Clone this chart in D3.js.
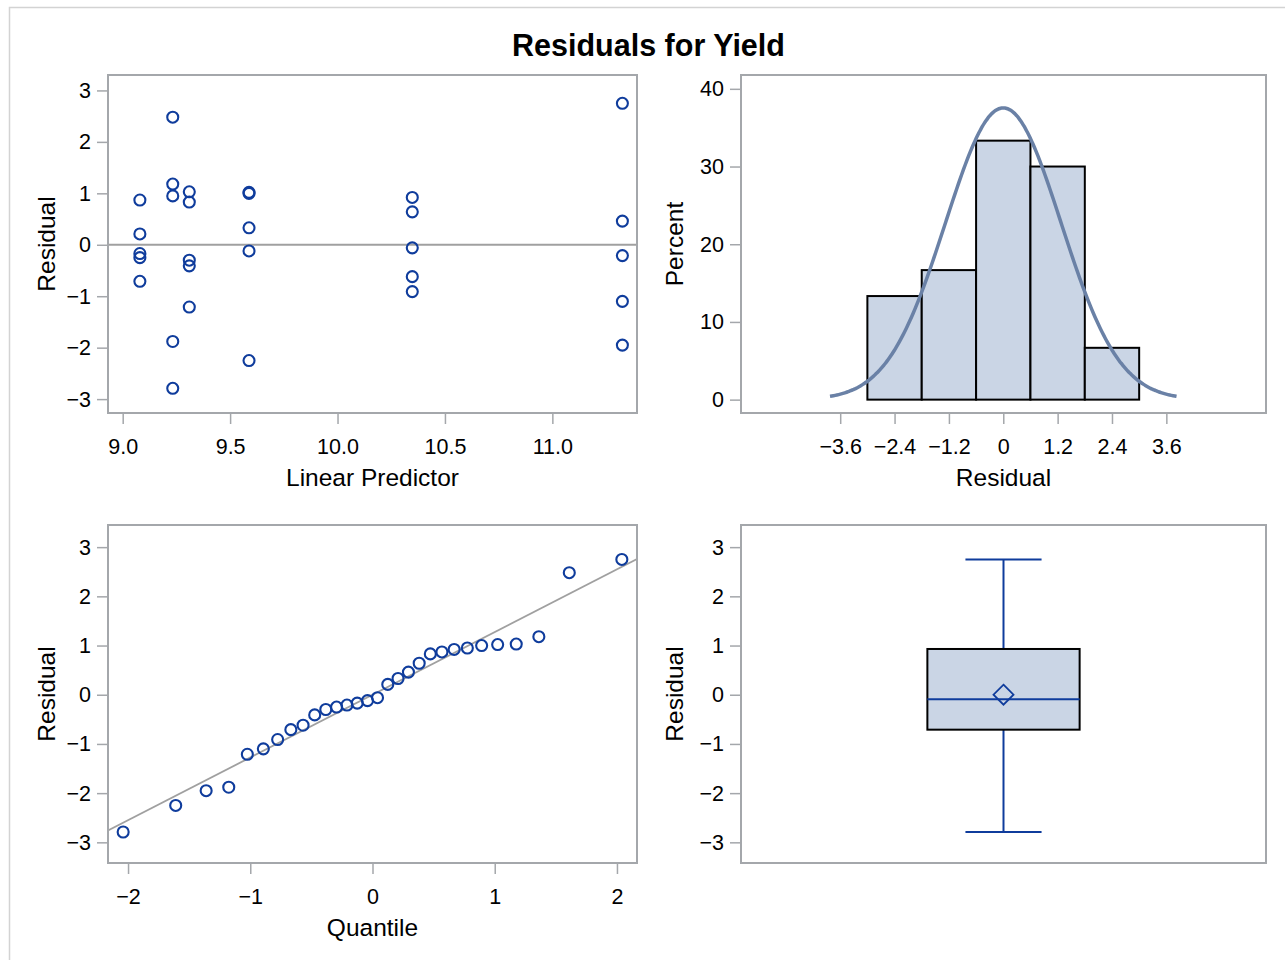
<!DOCTYPE html>
<html><head><meta charset="utf-8">
<script src="https://cdn.jsdelivr.net/npm/d3@7"></script>
<style>
body{margin:0;background:#fff}
svg{display:block}
text{font-family:"Liberation Sans",Arial,sans-serif;fill:#000}
</style>
</head><body>
<svg id="c" width="1285" height="960"></svg>
<script>
// ---------------- data ----------------
const chartTitle = "Residuals for Yield";
// Residual vs linear predictor (30 observations)
const linPred = [
  9.08, 9.08, 9.08, 9.08, 9.08,
  9.233, 9.233, 9.233, 9.233, 9.233,
  9.31, 9.31, 9.31, 9.31, 9.31,
  9.588, 9.588, 9.588, 9.588, 9.588,
  10.348, 10.348, 10.348, 10.348, 10.348,
  11.326, 11.326, 11.326, 11.326, 11.326
];
const residual = [
  0.87, 0.21, -0.17, -0.25, -0.71,
  2.48, 1.18, 0.95, -1.88, -2.79,
  1.03, 0.83, -0.30, -0.41, -1.21,
  1.02, 1.00, 0.33, -0.12, -2.25,
  0.92, 0.64, -0.06, -0.62, -0.91,
  2.75, 0.46, -0.21, -1.10, -1.95
];
// Q-Q plot: normal quantiles and ordered residuals
const qqQuantile = [
  -2.040, -1.610, -1.361, -1.176, -1.024, -0.893, -0.776, -0.668, -0.568, -0.473,
  -0.382, -0.294, -0.209, -0.125, -0.041, 0.041, 0.125, 0.209, 0.294, 0.382,
  0.473, 0.568, 0.668, 0.776, 0.893, 1.024, 1.176, 1.361, 1.610, 2.040
];
const qqResidual = [
  -2.79, -2.25, -1.95, -1.88, -1.21, -1.10, -0.91, -0.71, -0.62, -0.41,
  -0.30, -0.25, -0.21, -0.17, -0.12, -0.06, 0.21, 0.33, 0.46, 0.64,
  0.83, 0.87, 0.92, 0.95, 1.00, 1.02, 1.03, 1.18, 2.48, 2.75
];
// Histogram
const binLow  = [-3.0, -1.8, -0.6, 0.6, 1.8];
const binHigh = [-1.8, -0.6, 0.6, 1.8, 3.0];
const binPercent = [13.33, 16.67, 33.33, 30.0, 6.67];
const normalMu = 0.0;
const normalSigma = 1.275;
// Box plot statistics: min, Q1, median, Q3, max, mean
const boxStats = {min: -2.79, q1: -0.71, median: -0.09, q3: 0.93, max: 2.75, mean: 0.0};
// Tick values and labels
const residTicks = [-3, -2, -1, 0, 1, 2, 3];
const residTickLabels = ["−3", "−2", "−1", "0", "1", "2", "3"];
const predTicks = [9.0, 9.5, 10.0, 10.5, 11.0];
const predTickLabels = ["9.0", "9.5", "10.0", "10.5", "11.0"];
const pctTicks = [0, 10, 20, 30, 40];
const pctTickLabels = ["0", "10", "20", "30", "40"];
const histTicks = [-3.6, -2.4, -1.2, 0, 1.2, 2.4, 3.6];
const histTickLabels = ["−3.6", "−2.4", "−1.2", "0", "1.2", "2.4", "3.6"];
const quantTicks = [-2, -1, 0, 1, 2];
const quantTickLabels = ["−2", "−1", "0", "1", "2"];

// ---------------- style ----------------
const C = {
  frame: "#a4a7ab", tick: "#a4a7ab", marker: "#0f3c9c",
  ref: "#a0a0a0", bar: "#cad5e5", curve: "#6a81a6", outer: "#d3d3d3"
};
const FT = 21.5, FL = 24.5;

const svg = d3.select("#c");

// outer border
svg.append("path").attr("d", "M9.5,960 V7.5 H1285").attr("fill", "none")
  .attr("stroke", C.outer).attr("stroke-width", 1.5);

svg.append("text").attr("x", 648.5).attr("y", 56).attr("text-anchor", "middle")
  .attr("font-size", 30.5).attr("font-weight", "bold").text(chartTitle);

const P = {
  tl: {x0: 108, x1: 637, y0: 75, y1: 413, lab: 53},
  tr: {x0: 741, x1: 1266, y0: 75, y1: 413, lab: 58},
  bl: {x0: 108, x1: 637, y0: 525, y1: 863, lab: 53},
  br: {x0: 741, x1: 1266, y0: 525, y1: 863, lab: 58}
};

function fmtFrom(ticks, labels) {
  return d => labels[ticks.indexOf(d)];
}
function styleAxis(g) {
  g.select(".domain").remove();
  g.selectAll(".tick line").attr("stroke", C.tick).attr("stroke-width", 1.5);
  g.selectAll(".tick text").attr("font-size", FT).attr("fill", "#000")
    .attr("font-family", '"Liberation Sans",Arial,sans-serif');
}
function frame(p) {
  svg.append("rect").attr("x", p.x0).attr("y", p.y0)
    .attr("width", p.x1 - p.x0).attr("height", p.y1 - p.y0)
    .attr("fill", "none").attr("stroke", C.frame).attr("stroke-width", 2);
}
function yAxis(p, y, ticks, labels, label) {
  const g = svg.append("g").attr("transform", `translate(${p.x0},0)`)
    .call(d3.axisLeft(y).tickValues(ticks).tickSize(11).tickPadding(6).tickFormat(fmtFrom(ticks, labels)));
  styleAxis(g);
  svg.append("text").attr("transform", `translate(${p.x0 - p.lab},${(p.y0 + p.y1) / 2}) rotate(-90)`)
    .attr("text-anchor", "middle").attr("font-size", FL).text(label);
}
function xAxis(p, x, ticks, labels, label) {
  const g = svg.append("g").attr("transform", `translate(0,${p.y1})`)
    .call(d3.axisBottom(x).tickValues(ticks).tickSize(11).tickPadding(15).tickFormat(fmtFrom(ticks, labels)));
  styleAxis(g);
  g.selectAll(".tick text").attr("dy", "0.71em");
  svg.append("text").attr("x", (p.x0 + p.x1) / 2).attr("y", p.y1 + 73)
    .attr("text-anchor", "middle").attr("font-size", FL).text(label);
}
function clip(id, p) {
  svg.append("clipPath").attr("id", id).append("rect")
    .attr("x", p.x0).attr("y", p.y0).attr("width", p.x1 - p.x0).attr("height", p.y1 - p.y0);
}
const MR = 5.5, MW = 2.1;

// ---------- Top-left: residual vs linear predictor ----------
{
  const p = P.tl;
  const x = d3.scaleLinear().domain([8.9316, 11.394]).range([p.x0, p.x1]);
  const y = d3.scaleLinear().domain([-3.27, 3.30]).range([p.y1, p.y0]);
  svg.append("line").attr("x1", p.x0).attr("x2", p.x1).attr("y1", y(0)).attr("y2", y(0))
    .attr("stroke", C.ref).attr("stroke-width", 1.8);
  svg.append("g").selectAll("circle").data(d3.range(linPred.length)).join("circle")
    .attr("cx", i => x(linPred[i])).attr("cy", i => y(residual[i])).attr("r", MR)
    .attr("fill", "none").attr("stroke", C.marker).attr("stroke-width", MW);
  frame(p);
  yAxis(p, y, residTicks, residTickLabels, "Residual");
  xAxis(p, x, predTicks, predTickLabels, "Linear Predictor");
}

// ---------- Top-right: histogram ----------
{
  const p = P.tr;
  const x = d3.scaleLinear().domain([-5.79, 5.80]).range([p.x0, p.x1]);
  const y = d3.scaleLinear().domain([-1.72, 41.78]).range([p.y1, p.y0]);
  svg.append("g").selectAll("rect").data(d3.range(binPercent.length)).join("rect")
    .attr("x", i => x(binLow[i])).attr("width", i => x(binHigh[i]) - x(binLow[i]))
    .attr("y", i => y(binPercent[i])).attr("height", i => y(0) - y(binPercent[i]))
    .attr("fill", C.bar).attr("stroke", "#000").attr("stroke-width", 2);
  const bw = binHigh[0] - binLow[0];
  const xs = d3.range(0, 201).map(k => normalMu - 3 * normalSigma + k * 6 * normalSigma / 200);
  const pdf = v => 100 * bw * Math.exp(-0.5 * ((v - normalMu) / normalSigma) ** 2) / (normalSigma * Math.sqrt(2 * Math.PI));
  svg.append("path").datum(xs)
    .attr("d", d3.line().x(v => x(v)).y(v => y(pdf(v))).curve(d3.curveBasis))
    .attr("fill", "none").attr("stroke", C.curve).attr("stroke-width", 3.5);
  frame(p);
  yAxis(p, y, pctTicks, pctTickLabels, "Percent");
  xAxis(p, x, histTicks, histTickLabels, "Residual");
}

// ---------- Bottom-left: Q-Q plot ----------
{
  const p = P.bl;
  const x = d3.scaleLinear().domain([-2.164, 2.164]).range([p.x0, p.x1]);
  const y = d3.scaleLinear().domain([-3.42, 3.45]).range([p.y1, p.y0]);
  clip("qqclip", p);
  const xd = x.domain();
  svg.append("line").attr("clip-path", "url(#qqclip)")
    .attr("x1", x(xd[0])).attr("y1", y(normalMu + normalSigma * xd[0]))
    .attr("x2", x(xd[1])).attr("y2", y(normalMu + normalSigma * xd[1]))
    .attr("stroke", C.ref).attr("stroke-width", 1.8);
  svg.append("g").selectAll("circle").data(d3.range(qqQuantile.length)).join("circle")
    .attr("cx", i => x(qqQuantile[i])).attr("cy", i => y(qqResidual[i])).attr("r", MR)
    .attr("fill", "none").attr("stroke", C.marker).attr("stroke-width", MW);
  frame(p);
  yAxis(p, y, residTicks, residTickLabels, "Residual");
  xAxis(p, x, quantTicks, quantTickLabels, "Quantile");
}

// ---------- Bottom-right: box plot ----------
{
  const p = P.br;
  const x = d3.scaleLinear().domain([-1, 1]).range([p.x0, p.x1]);
  const y = d3.scaleLinear().domain([-3.42, 3.45]).range([p.y1, p.y0]);
  const cx = x(0), hb = x(0.29) - x(0), hc = x(0.145) - x(0);
  const g = svg.append("g");
  g.append("line").attr("x1", cx).attr("x2", cx).attr("y1", y(boxStats.q3)).attr("y2", y(boxStats.max))
    .attr("stroke", C.marker).attr("stroke-width", 2);
  g.append("line").attr("x1", cx).attr("x2", cx).attr("y1", y(boxStats.q1)).attr("y2", y(boxStats.min))
    .attr("stroke", C.marker).attr("stroke-width", 2);
  [boxStats.max, boxStats.min].forEach(v => g.append("line")
    .attr("x1", cx - hc).attr("x2", cx + hc).attr("y1", y(v)).attr("y2", y(v))
    .attr("stroke", C.marker).attr("stroke-width", 2));
  g.append("rect").attr("x", cx - hb).attr("width", 2 * hb)
    .attr("y", y(boxStats.q3)).attr("height", y(boxStats.q1) - y(boxStats.q3))
    .attr("fill", C.bar).attr("stroke", "#000").attr("stroke-width", 2);
  g.append("line").attr("x1", cx - hb).attr("x2", cx + hb).attr("y1", y(boxStats.median)).attr("y2", y(boxStats.median))
    .attr("stroke", C.marker).attr("stroke-width", 2);
  const my = y(boxStats.mean), d = 10;
  g.append("path").attr("d", `M${cx},${my - d} L${cx + d},${my} L${cx},${my + d} L${cx - d},${my} Z`)
    .attr("fill", "none").attr("stroke", C.marker).attr("stroke-width", 1.8);
  frame(p);
  yAxis(p, y, residTicks, residTickLabels, "Residual");
}
</script>
</body></html>
